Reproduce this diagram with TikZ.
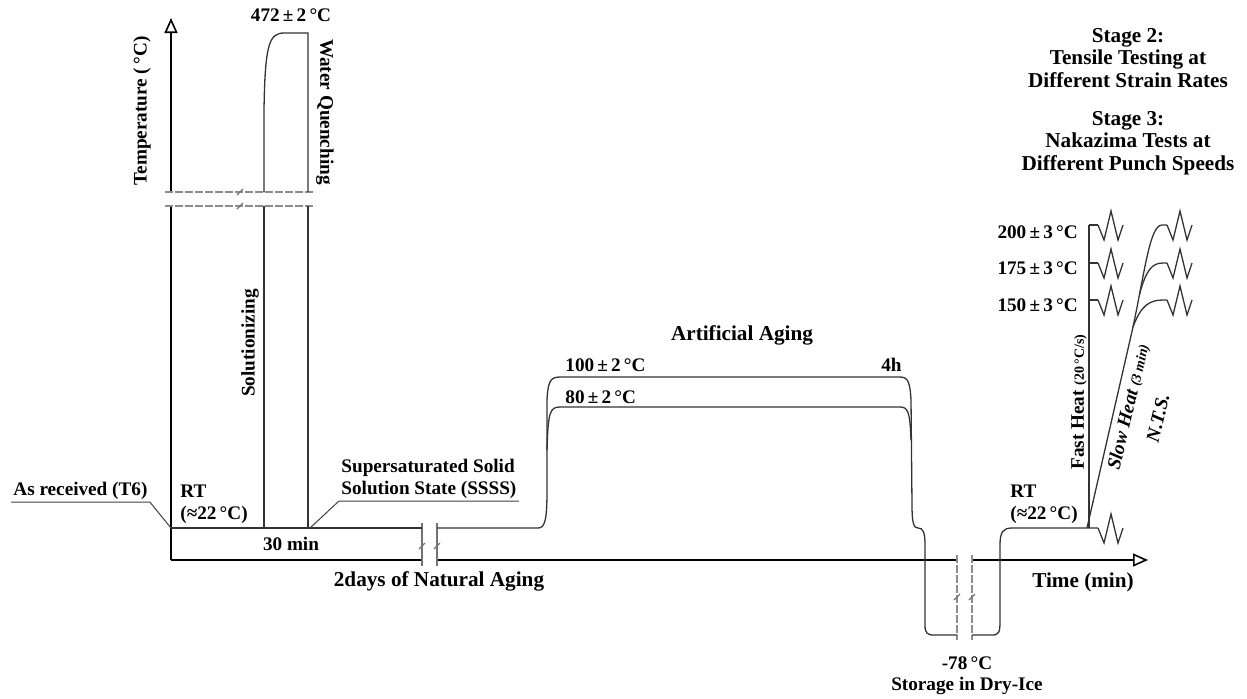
\documentclass[tikz,border=0pt]{standalone}
\usepackage{fontspec}
\setmainfont{Liberation Serif}
\usetikzlibrary{arrows.meta, positioning, calc}

\begin{document}
\begin{tikzpicture}[x=0.5pt, y=-0.5pt,
    lbl/.style={font=\fontsize{9.6}{11}\bfseries\selectfont, inner sep=1pt},
    ttl/.style={font=\fontsize{10.6}{11.3}\bfseries\selectfont, inner sep=1pt, align=center},
    profile/.style={line width=0.65pt, draw=black!80},
    lead/.style={line width=0.5pt, draw=black!75},
    axisline/.style={line width=0.8pt, draw=black},
    axisarrow/.style={axisline, -{Triangle[open, length=7.5pt, width=6.5pt]}},
    brkline/.style={line width=0.6pt, draw=black!55},
    brkdash/.style={line width=0.6pt, draw=black!45, dash pattern=on 4pt off 1pt},
    zz/.pic={\draw[profile] (0,0) -- (6,15) -- (13,-14) -- (20,15) -- (25,0);}
]
\useasboundingbox (0,0) rectangle (1247,698);

    % Temperature axis (broken between the dashed lines)
    \draw[axisline] (171,560) -- (171,206);
    \draw[axisarrow] (171,192) -- (171,18);
    \node[lbl, rotate=90] (ylbl) at (142,111) {Temperature (\,°C)};

    % Time axis (broken twice)
    \draw[axisline] (171,560) -- (422,560);
    \draw[axisline] (437,560) -- (957,560);
    \draw[axisarrow] (972,560) -- (1148,560);
    \node[ttl] (xlbl) at (1083,582) {Time (min)};

    % Break marks
    \draw[brkdash] (165,192) -- (315,192);
    \draw[brkdash] (165,206) -- (315,206);
    \foreach \y in {192,206} \draw[brkline] (237,\y+3) -- (243,\y-3);
    \foreach \x in {422,437} {
        \draw[brkline] (\x,523) -- (\x,566);
        \draw[brkline] (\x-3,549) -- (\x+3,543);
    }
    \foreach \x in {957,972} {
        \draw[brkdash] (\x,555) -- (\x,640);
        \draw[brkline] (\x-3,600) -- (\x+3,594);
    }

    % Solutionizing and water quenching
    \coordinate (rt0) at (171,528);
    \coordinate (quench) at (310,528);
    \draw[profile] (rt0) -- (422,528);
    \draw[profile] (264,528) -- (264,206);
    \draw[profile] (264,192) -- (264,110) .. controls (265,45) and (269,33) .. (284,33) -- (308,33) -- (308,192);
    \draw[profile] (308,206) -- (308,528);
    \node[lbl] (soltemp) at (291,15) {472\,±\,2\,°C};
    \node[lbl, rotate=-90] (wq) at (325,112) {Water Quenching};
    \node[lbl, rotate=90] (sol) at (250,343) {Solutionizing};
    \node[lbl] (tsol) at (291,544) {30 min};
    \node[lbl, align=left, anchor=west] (rt1) at (178,504) {RT\\(≈22\,°C)};

    % As received and SSSS
    \node[lbl, anchor=south west] (asrec) at (11,502) {As received (T6)};
    \draw[lead] (asrec.south west) -- (asrec.south east) -- (rt0);
    \node[lbl, anchor=south west, align=left] (ssss) at (339,501) {Supersaturated Solid\\Solution State (SSSS)};
    \draw[lead] (ssss.south east) -- (ssss.south west) -- (quench);

    % Natural aging, artificial aging and storage in dry-ice
    \draw[profile] (437,528) -- (538,528) .. controls (545,528) and (547,520) .. (547,490) -- (547,400)
        .. controls (548,382) and (550,377) .. (560,377) -- (900,377) .. controls (908,377) and (910,382) .. (911,400)
        -- (912,505) .. controls (912,524) and (914,528) .. (918,528) .. controls (923,528) and (925,532) .. (925,545)
        -- (925,625) .. controls (925,633) and (927,635) .. (934,635) -- (957,635);
    \draw[profile] (547,450) .. controls (548,412) and (550,407) .. (560,407) -- (900,407)
        .. controls (908,407) and (910,412) .. (911,440);
    \draw[profile] (972,635) -- (992,635) .. controls (999,635) and (1000,632) .. (1000,622) -- (1000,545)
        .. controls (1000,532) and (1003,528) .. (1012,528) -- (1098,528);
    \pic at (1098,528) {zz};
    \node[ttl] (natage) at (439,581) {2days of Natural Aging};
    \node[ttl] (artage) at (742,335) {Artificial Aging};
    \node[lbl, anchor=west] (t100) at (563,365) {100\,±\,2\,°C};
    \node[lbl, anchor=east] (t4h) at (904,365) {4h};
    \node[lbl, anchor=west] (t80) at (563,397) {80\,±\,2\,°C};
    \node[lbl] (t78) at (967,663) {-78\,°C};
    \node[lbl] (dry) at (967,686) {Storage in Dry-Ice};
    \node[lbl, align=left, anchor=west] (rt2) at (1008,504) {RT\\(≈22\,°C)};

    % Fast heat
    \draw[profile] (1089,528) -- (1089,225);
    \foreach \t in {225,263,300} {
        \draw[profile] (1089,\t) -- (1098,\t);
        \pic at (1098,\t) {zz};
    }
    \node[lbl, rotate=90] (fast) at (1079,402) {Fast Heat {\fontsize{7}{8}\selectfont(20\,°C/s)}};

    % Slow heat
    \draw[profile] (1087,528) -- (1133,327) coordinate (br150)
        .. controls (1145,270) and (1150,225) .. (1162,225) coordinate[pos=0.2] (br175) -- (1167,225);
    \draw[profile] (br150) .. controls (1141,305) and (1150,300) .. (1163,300) -- (1167,300);
    \draw[profile] (br175) .. controls (1146,270) and (1152,263) .. (1163,263) -- (1167,263);
    \foreach \t in {225,263,300} \pic at (1167,\t) {zz};
    \node[lbl, rotate=76.8, font=\fontsize{9.6}{11}\bfseries\itshape\selectfont] (slow) at (1129,407) {Slow Heat {\fontsize{7}{8}\selectfont(3 min)}};
    \node[lbl, rotate=76.8, font=\fontsize{9.6}{11}\bfseries\itshape\selectfont] (nts) at (1158,418) {N.T.S.};

    % Test temperatures
    \node[lbl, anchor=east] (t200) at (1080,232) {200\,±\,3\,°C};
    \node[lbl, anchor=east] (t175) at (1080,268) {175\,±\,3\,°C};
    \node[lbl, anchor=east] (t150) at (1080,305) {150\,±\,3\,°C};

    % Stages
    \node[ttl] (stage2) at (1128,58) {Stage 2:\\Tensile Testing at\\Different Strain Rates};
    \node[ttl] (stage3) at (1128,143) {Stage 3:\\Nakazima Tests at\\Different Punch Speeds};

\end{tikzpicture}
\end{document}
